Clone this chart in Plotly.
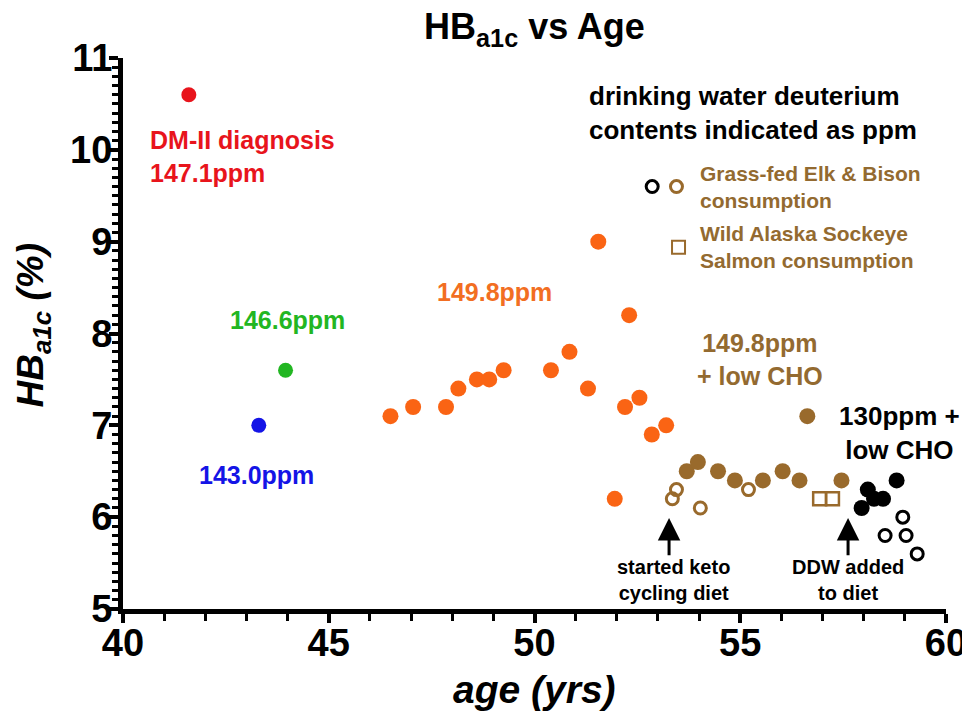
import plotly.graph_objects as go

# ---- data (age in years, HbA1c in %) ----
red_age = [41.6]
red_hba1c = [10.6]
green_age = [43.95]
green_hba1c = [7.6]
blue_age = [43.3]
blue_hba1c = [7.0]
orange_age = [46.5, 47.05, 47.85, 48.15, 48.6, 48.9, 49.25, 50.4, 50.85, 51.3,
              51.55, 51.95, 52.2, 52.3, 52.55, 52.85, 53.2]
orange_hba1c = [7.1, 7.2, 7.2, 7.4, 7.5, 7.5, 7.6, 7.6, 7.8, 7.4,
                9.0, 6.2, 7.2, 8.2, 7.3, 6.9, 7.0]
brown_age = [53.7, 53.97, 54.46, 54.87, 55.55, 56.03, 56.44, 56.63, 57.46]
brown_hba1c = [6.5, 6.6, 6.5, 6.4, 6.4, 6.5, 6.4, 7.1, 6.4]
brown_elk_age = [53.35, 53.45, 54.03, 55.2]
brown_elk_hba1c = [6.2, 6.3, 6.1, 6.3]
brown_salmon_age = [56.93, 57.24]
brown_salmon_hba1c = [6.2, 6.2]
black_age = [57.95, 58.1, 58.25, 58.47, 58.8]
black_hba1c = [6.1, 6.3, 6.2, 6.2, 6.4]
black_elk_age = [58.95, 58.52, 59.03, 59.3]
black_elk_hba1c = [6.0, 5.8, 5.8, 5.6]

# legend key symbols placed in the plot
key_elk_black = (52.86, 9.6)
key_elk_brown = (53.45, 9.6)
key_salmon = (53.5, 8.94)

x_range = [40, 60]
y_range = [5, 11]
x_ticks = [40, 45, 50, 55, 60]
y_ticks = [5, 6, 7, 8, 9, 10, 11]

RED = "#E8141C"
GREEN = "#22B622"
BLUE = "#1414E6"
ORANGE = "#FA6414"
BROWN = "#996A2C"
BROWN_TXT = "#936A30"
FONT = "Liberation Sans, Arial, sans-serif"

fig = go.Figure()


def filled(x, y, color, size=16):
    fig.add_trace(go.Scatter(x=x, y=y, mode="markers", showlegend=False,
                             marker=dict(color=color, size=size, line=dict(width=0))))


def hollow(x, y, color, symbol="circle-open", size=12, lw=3):
    fig.add_trace(go.Scatter(x=x, y=y, mode="markers", showlegend=False,
                             marker=dict(symbol=symbol, color=color, size=size,
                                         line=dict(width=lw, color=color))))


filled(red_age, red_hba1c, RED, 15)
filled(green_age, green_hba1c, GREEN, 15)
filled(blue_age, blue_hba1c, BLUE, 15)
filled(orange_age, orange_hba1c, ORANGE, 16)
filled(brown_age, brown_hba1c, BROWN, 16)
hollow(brown_elk_age, brown_elk_hba1c, BROWN)
hollow(brown_salmon_age, brown_salmon_hba1c, BROWN, "square-open", 13, 2.5)
filled(black_age, black_hba1c, "#000000", 16)
hollow(black_elk_age, black_elk_hba1c, "#000000")
hollow([key_elk_black[0]], [key_elk_black[1]], "#000000")
hollow([key_elk_brown[0]], [key_elk_brown[1]], BROWN)
hollow([key_salmon[0]], [key_salmon[1]], BROWN, "square-open", 13, 2)

# empty trace that binds the overlay axes carrying the tick labels
fig.add_trace(go.Scatter(x=[], y=[], xaxis="x2", yaxis="y2", showlegend=False,
                         hoverinfo="skip"))


def note(x, y, text, color, size, xanchor="center", align="center", bold=True):
    fig.add_annotation(x=x, y=y, xref="x", yref="y", text=text, showarrow=False,
                       xanchor=xanchor, yanchor="middle", align=align,
                       font=dict(family=FONT, size=size, color=color,
                                 weight="bold" if bold else "normal"))


note(40.61, 9.93, "DM-II diagnosis<br>147.1ppm", RED, 25, "left", "left")
note(43.99, 8.15, "146.6ppm", GREEN, 25)
note(43.25, 6.46, "143.0ppm", BLUE, 25)
note(49.02, 8.45, "149.8ppm", "#F26E22", 25)
note(55.48, 7.72, "149.8ppm<br>+ low CHO", BROWN_TXT, 25)
note(58.88, 6.92, "130ppm +<br>low CHO", "#000000", 26)
note(51.28, 10.40, "drinking water deuterium<br>contents indicated as ppm", "#000000", 26, "left", "left")
note(53.97, 9.59, "Grass-fed Elk &amp; Bison<br>consumption", BROWN_TXT, 21, "left", "left")
note(53.97, 8.94, "Wild Alaska Sockeye<br>Salmon consumption", BROWN_TXT, 21, "left", "left")
note(53.37, 5.32, "started keto<br>cycling diet", "#000000", 20)
note(57.62, 5.32, "DDW added<br>to diet", "#000000", 20)

for ax_x in (53.27, 57.62):
    fig.add_annotation(x=ax_x, y=5.99, ax=ax_x, ay=5.57, xref="x", yref="y",
                       axref="x", ayref="y", text="", showarrow=True,
                       arrowhead=2, arrowsize=1.5, arrowwidth=3, arrowcolor="#000000")

# axis titles
fig.add_annotation(x=0.5, y=-0.147, xref="paper", yref="paper", showarrow=False,
                   text="<i>age (yrs)</i>", xanchor="center", yanchor="middle",
                   font=dict(family=FONT, size=39, color="#000000", weight="bold"))
fig.add_annotation(x=-0.109, y=0.515, xref="paper", yref="paper", showarrow=False,
                   text="<i>HB<sub>a1c</sub> (%)</i>", textangle=-90,
                   xanchor="center", yanchor="middle",
                   font=dict(family=FONT, size=37, color="#000000", weight="bold"))

tick_font = dict(family=FONT, size=38, color="#000000", weight="bold")
line_axis = dict(showgrid=False, zeroline=False, showline=True, linewidth=5,
                 linecolor="#000000", ticks="outside", tickwidth=4, ticklen=9,
                 tickcolor="#000000", showticklabels=False)
label_axis = dict(showgrid=False, zeroline=False, showline=False, ticks="outside",
                  tickwidth=1, tickcolor="rgba(0,0,0,0)", tickfont=tick_font)

fig.update_layout(
    width=970, height=720,
    margin=dict(l=115, r=32, t=50, b=119),
    paper_bgcolor="white", plot_bgcolor="white",
    title=dict(text="HB<sub>a1c</sub> vs Age", x=0.5, xref="paper", xanchor="center",
               y=1 - 6 / 720, yanchor="top",
               font=dict(family=FONT, size=36, color="#000000", weight="bold")),
    xaxis=dict(range=x_range, tickvals=x_ticks,
               minor=dict(dtick=1, ticklen=7, tickwidth=3, ticks="outside", tickcolor="#000000"),
               **line_axis),
    yaxis=dict(range=y_range, tickvals=y_ticks,
               minor=dict(dtick=0.1, ticklen=6, tickwidth=3, ticks="outside", tickcolor="#000000"),
               **line_axis),
    xaxis2=dict(range=x_range, tickvals=x_ticks, ticktext=[str(v) for v in x_ticks],
                overlaying="x", anchor="y", side="bottom", ticklen=0, **label_axis),
    yaxis2=dict(range=y_range, tickvals=y_ticks, ticktext=[str(v) for v in y_ticks],
                overlaying="y", anchor="x", side="left", ticklen=2, **label_axis),
)

fig.write_html("out.html")
